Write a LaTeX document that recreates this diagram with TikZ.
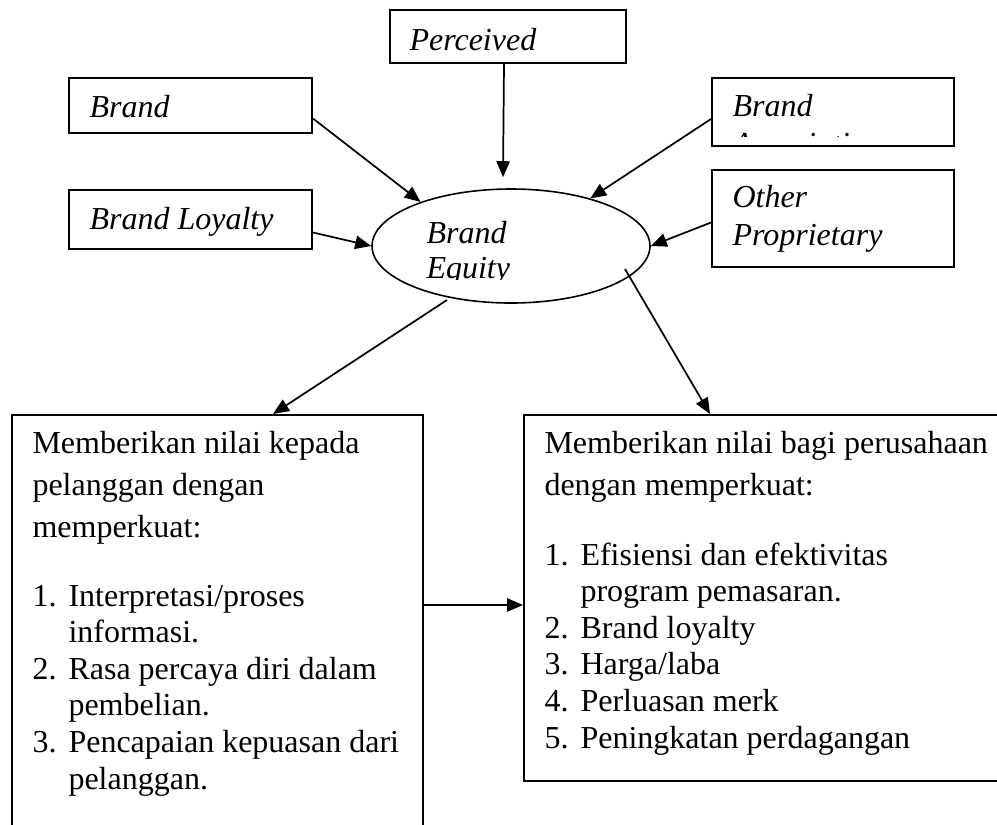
\documentclass[tikz,border=0pt]{standalone}
\usepackage{fontspec}
\setmainfont{Liberation Serif}
\usetikzlibrary{shapes.geometric,arrows.meta,calc}

\begin{document}
\begin{tikzpicture}[x=0.375pt,y=-0.375pt,>={Triangle[length=6pt,width=5pt]},
  box/.style={draw,line width=0.75pt,anchor=north west,inner sep=0pt},
  lbl/.style={anchor=base west,inner sep=0pt,align=left,font=\fontsize{12}{13.9}\selectfont\itshape},
  body/.style={anchor=base west,inner sep=0pt,align=left,font=\fontsize{12}{15.75}\selectfont},
  items/.style={anchor=base west,inner sep=0pt,align=left,font=\fontsize{12}{13.7}\selectfont},
  arr/.style={->,line width=0.65pt}]

\clip (0,0) rectangle (997,824);

% top boxes
\node[box,minimum width=88.5pt,minimum height=19.875pt] (perceived) at (389,9) {};
\node[box,minimum width=91.125pt,minimum height=20.625pt] (awareness) at (68,77) {};
\node[box,minimum width=91.125pt,minimum height=22.125pt] (loyalty) at (68,189) {};
\node[box,minimum width=90.75pt,minimum height=25.5pt] (assoc) at (711,77) {};
\node[box,minimum width=90.75pt,minimum height=36.375pt] (other) at (711,169) {};

% base anchor = last line
\node[lbl] (perceivedtxt) at (409,50) {Perceived};
\node[lbl] (awarenesstxt) at (89,117) {Brand};
\node[lbl] (loyaltytxt) at (89,229) {Brand Loyalty};
\node[lbl] (othertxt) at (732,245) {Other\\Proprietary};
\begin{scope}
\clip (711,77) rectangle (953,136);
\node[lbl] (assoctxt) at (732,154) {Brand\\Associations};
\end{scope}

% brand equity
\node[draw,ellipse,line width=0.6pt,minimum width=104.25pt,minimum height=42.75pt,inner sep=0pt] (equity) at (511,246) {};
\begin{scope}
\clip (360,180) rectangle (660,279);
\node[lbl,font=\fontsize{12}{13.1}\selectfont\itshape] (equitytxt) at (426,278) {Brand\\Equity};
\end{scope}

\draw[arr] ($(perceived.south)+(-4,0)$) -- ($(equity.north)+(-8,-11)$);
\draw[arr] ($(awareness.east)+(0,13)$) -- (equity.154.7);
\draw[arr] ($(loyalty.east)+(0,13)$) -- (equity.west);
\draw[arr] ($(assoc.west)+(0,7)$) -- (equity.31.5);
\draw[arr] ($(other.west)+(0,4)$) -- (equity.east);

% bottom boxes
\node[box,minimum width=154.125pt,minimum height=156pt] (custbox) at (11,414) {};
\node[box,minimum width=180.75pt,minimum height=137.25pt] (firmbox) at (523,414) {};

\node[body] (custtxt) at (32,537) {Memberikan nilai kepada\\pelanggan dengan\\memperkuat:};
\node[items] (custlist) at (32,789) {\makebox[13.5pt][l]{1.}Interpretasi/proses\\
  \hspace*{13.5pt}informasi.\\
  \makebox[13.5pt][l]{2.}Rasa percaya diri dalam\\
  \hspace*{13.5pt}pembelian.\\
  \makebox[13.5pt][l]{3.}Pencapaian kepuasan dari\\
  \hspace*{13.5pt}pelanggan.};
\node[body] (firmtxt) at (544,495) {Memberikan nilai bagi perusahaan\\dengan memperkuat:};
\node[items] (firmlist) at (544,748) {\makebox[13.5pt][l]{1.}Efisiensi dan efektivitas\\
  \hspace*{13.5pt}program pemasaran.\\
  \makebox[13.5pt][l]{2.}Brand loyalty\\
  \makebox[13.5pt][l]{3.}Harga/laba\\
  \makebox[13.5pt][l]{4.}Perluasan merk\\
  \makebox[13.5pt][l]{5.}Peningkatan perdagangan};

\draw[arr] ($(equity.center)+(-64,54)$) -- ($(custbox.north west)+(262,0)$);
\draw[arr] ($(equity.center)+(114,23)$) -- ($(firmbox.north west)+(187,0)$);
\draw[arr] ($(custbox.north east)+(0,191)$) -- ($(firmbox.north west)+(0,191)$);

\end{tikzpicture}
\end{document}
